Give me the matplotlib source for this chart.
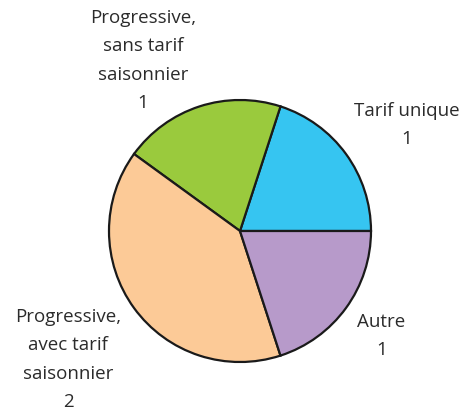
import matplotlib
matplotlib.use("Agg")
import matplotlib.pyplot as plt

# Répartition des structures tarifaires
labels = ["Tarif unique", "Progressive,\nsans tarif\nsaisonnier",
          "Progressive,\navec tarif\nsaisonnier", "Autre"]
counts = [1, 1, 2, 1]
colors = ["#36C5F1", "#9ACA3D", "#FCCA97", "#B79ACA"]
# label anchor points (pie units, centre at 0,0, radius 1)
label_xy = [(1.27, 0.81), (-0.74, 1.30), (-1.31, -0.98), (1.08, -0.80)]

W, H = 466, 416
fig = plt.figure(figsize=(W / 100, H / 100), dpi=100)
cx, cy, r = 240, 231, 131
ax = fig.add_axes([(cx - r) / W, (H - cy - r) / H, 2 * r / W, 2 * r / H])
ax.axis("off")

ax.pie(counts, colors=colors, startangle=0, counterclock=True, radius=1,
       wedgeprops=dict(edgecolor="#1a1a1a", linewidth=1.6))
ax.set_xlim(-1, 1)
ax.set_ylim(-1, 1)

for lab, n, (x, y) in zip(labels, counts, label_xy):
    ax.text(x, y, f"{lab}\n{n}", ha="center", va="center", fontsize=13.5,
            family="Open Sans", color="#2b2b2b", linespacing=1.75, clip_on=False)

fig.savefig("out.png", dpi=100)
